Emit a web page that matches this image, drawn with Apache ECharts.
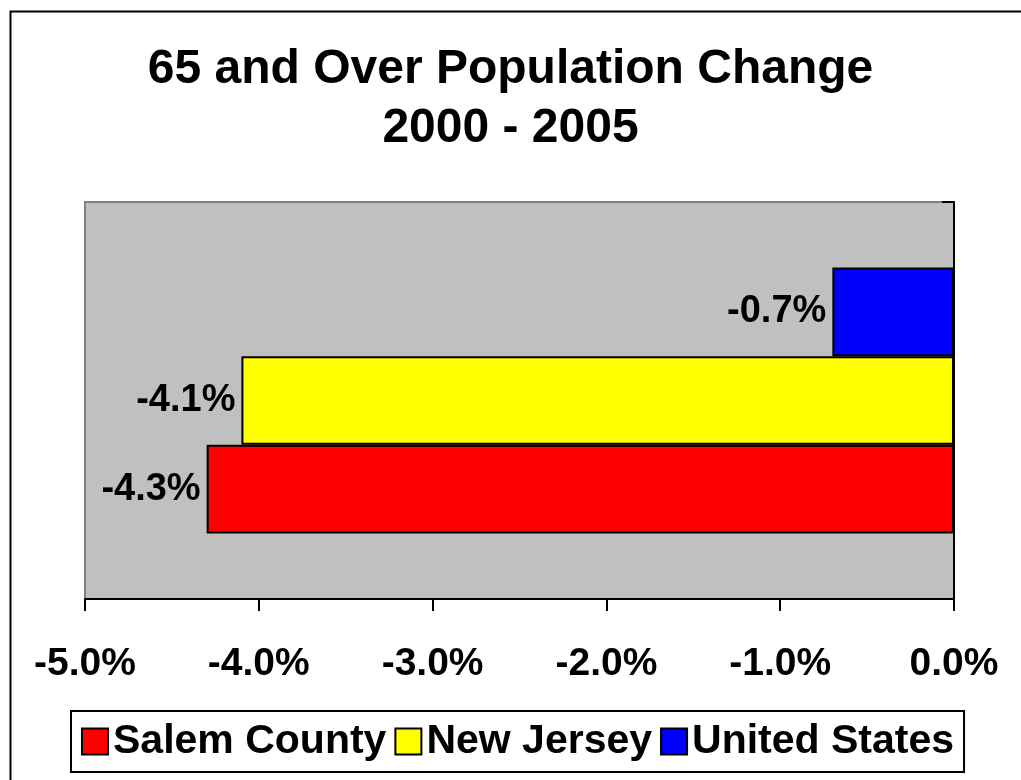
<!DOCTYPE html>
<html>
<head>
<meta charset="utf-8">
<title>65 and Over Population Change</title>
<script src="https://cdn.jsdelivr.net/npm/echarts@6/dist/echarts.min.js"></script>
<style>
    html, body { margin: 0; padding: 0; background: #fff; }
    #chart-container { width: 1021px; height: 780px; }
</style>
</head>
<body>
<div id="chart-container"></div>
<script>
// 图表数据
const categories = [''];
const seriesNames = ['Salem County', 'New Jersey', 'United States'];
const salemValues = [-4.3];
const newJerseyValues = [-4.1];
const unitedStatesValues = [-0.7];
const seriesColors = ['#ff0000', '#ffff00', '#0000ff'];
const xTickValues = [-5, -4, -3, -2, -1, 0];

const fontFamily = 'Arial, "Liberation Sans", sans-serif';

function percentLabel(v) {
    return Number(v).toFixed(1) + '%';
}

function makeBar(name, values, color) {
    return {
        name: name,
        type: 'bar',
        data: values,
        barGap: '0%',
        barCategoryGap: '33%',
        itemStyle: {
            color: color,
            borderColor: '#000',
            borderWidth: 2
        },
        label: {
            show: true,
            position: 'left',
            distance: 6,
            color: '#000',
            fontFamily: fontFamily,
            fontWeight: 'bold',
            fontSize: 38,
            formatter: function (p) { return percentLabel(p.value); }
        },
        emphasis: { disabled: true },
        animation: false
    };
}

const chartDom = document.getElementById('chart-container');
const myChart = echarts.init(chartDom, null, { renderer: 'canvas' });

const option = {
    backgroundColor: '#fff',
    animation: false,
    title: {
        text: '65 and Over Population Change\n2000 - 2005',
        left: 'center',
        top: 35,
        textStyle: {
            color: '#000',
            fontFamily: fontFamily,
            fontWeight: 'bold',
            fontSize: 48,
            lineHeight: 59
        }
    },
    legend: {
        data: seriesNames,
        left: 71,
        top: 711,
        padding: [10, 10, 10, 10],
        borderColor: '#000',
        borderWidth: 2,
        itemGap: 8,
        itemWidth: 26,
        itemHeight: 26,
        icon: 'rect',
        itemStyle: {
            borderColor: '#000',
            borderWidth: 2
        },
        textStyle: {
            color: '#000',
            fontFamily: fontFamily,
            fontWeight: 'bold',
            fontSize: 41
        }
    },
    grid: {
        left: 85,
        right: 67,
        top: 202,
        bottom: 181,
        show: true,
        backgroundColor: '#c0c0c0',
        borderColor: '#808080',
        borderWidth: 2
    },
    xAxis: {
        type: 'value',
        min: xTickValues[0],
        max: xTickValues[xTickValues.length - 1],
        interval: 1,
        axisLine: { show: true, onZero: false, lineStyle: { color: '#000', width: 2 } },
        axisTick: { show: true, length: 12, lineStyle: { color: '#000', width: 2 } },
        splitLine: { show: false },
        axisLabel: {
            margin: 46,
            color: '#000',
            fontFamily: fontFamily,
            fontWeight: 'bold',
            fontSize: 39,
            formatter: percentLabel
        }
    },
    yAxis: {
        type: 'category',
        data: categories,
        position: 'right',
        axisLine: { show: true, lineStyle: { color: '#000', width: 2 } },
        axisTick: { show: true, inside: true, length: 12, lineStyle: { color: '#000', width: 2 } },
        axisLabel: { show: false },
        splitLine: { show: false }
    },
    graphic: [
        {
            // 外框
            type: 'rect',
            left: 8,
            top: 9,
            shape: { width: 1040, height: 800 },
            style: { fill: 'none', stroke: '#000', lineWidth: 2 },
            silent: true
        }
    ],
    // 顺序倒过来：第一个系列画在最上面
    series: [
        makeBar(seriesNames[2], unitedStatesValues, seriesColors[2]),
        makeBar(seriesNames[1], newJerseyValues, seriesColors[1]),
        makeBar(seriesNames[0], salemValues, seriesColors[0])
    ]
};

myChart.setOption(option);

window.addEventListener('resize', function () {
    myChart.resize();
});
</script>
</body>
</html>
